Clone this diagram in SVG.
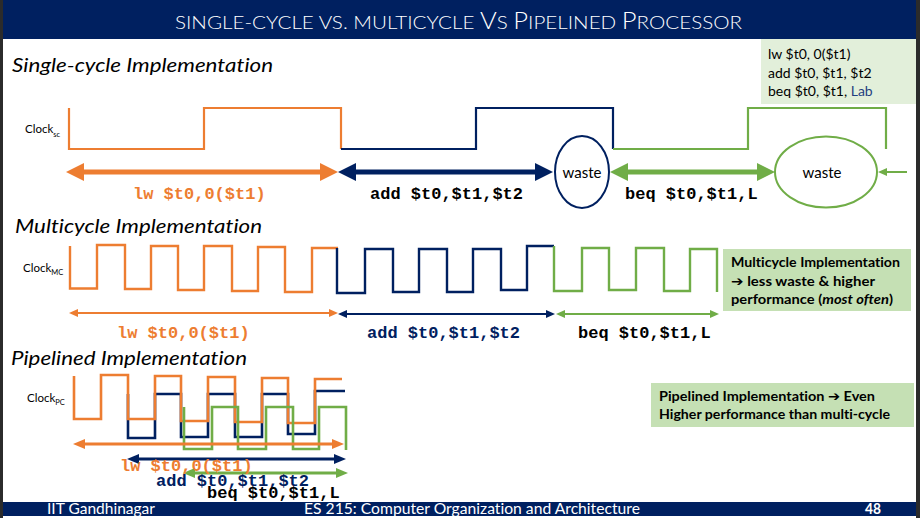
<svg xmlns="http://www.w3.org/2000/svg" width="920" height="518" viewBox="0 0 920 518">
<defs>
<style>
.sans{font-family:Lato,"Open Sans","Liberation Sans","DejaVu Sans",sans-serif;font-variant-ligatures:none}
.mono{font-family:"Liberation Mono","Courier New",monospace;font-weight:bold;font-size:17px}
.head{font-style:italic;font-size:20px;fill:#000}
.clk{font-size:11.5px;fill:#000}
.sub{font-size:7.5px}
.wave{fill:none;stroke-linejoin:miter;stroke-linecap:butt}
.o{stroke:#ED7D31}.n{stroke:#002060}.g{stroke:#70AD47}
.fo{fill:#ED7D31}.fn{fill:#002060}.fg{fill:#70AD47}.fk{fill:#000}
.note{font-weight:bold;font-size:13.5px;fill:#000}
.arr{font-family:"DejaVu Sans",sans-serif;font-weight:bold}
.foot{font-size:15px;fill:#fff}
</style>
<marker id="bO" markerUnits="userSpaceOnUse" markerWidth="18" markerHeight="18" refX="8" refY="9" orient="auto-start-reverse"><path d="M0,0 L18,9 L0,18 z" fill="#ED7D31"/></marker>
<marker id="bN" markerUnits="userSpaceOnUse" markerWidth="18" markerHeight="18" refX="8" refY="9" orient="auto-start-reverse"><path d="M0,0 L18,9 L0,18 z" fill="#002060"/></marker>
<marker id="bG" markerUnits="userSpaceOnUse" markerWidth="18" markerHeight="18" refX="8" refY="9" orient="auto-start-reverse"><path d="M0,0 L18,9 L0,18 z" fill="#70AD47"/></marker>
<marker id="mO" markerUnits="userSpaceOnUse" markerWidth="12" markerHeight="10" refX="5" refY="5" orient="auto-start-reverse"><path d="M0,0 L12,5 L0,10 z" fill="#ED7D31"/></marker>
<marker id="mN" markerUnits="userSpaceOnUse" markerWidth="12" markerHeight="10" refX="5" refY="5" orient="auto-start-reverse"><path d="M0,0 L12,5 L0,10 z" fill="#002060"/></marker>
<marker id="mG" markerUnits="userSpaceOnUse" markerWidth="12" markerHeight="10" refX="5" refY="5" orient="auto-start-reverse"><path d="M0,0 L12,5 L0,10 z" fill="#70AD47"/></marker>
<marker id="sO" markerUnits="userSpaceOnUse" markerWidth="9" markerHeight="8" refX="4" refY="4" orient="auto-start-reverse"><path d="M0,0 L9,4 L0,8 z" fill="#ED7D31"/></marker>
<marker id="sN" markerUnits="userSpaceOnUse" markerWidth="9" markerHeight="8" refX="4" refY="4" orient="auto-start-reverse"><path d="M0,0 L9,4 L0,8 z" fill="#002060"/></marker>
<marker id="sG" markerUnits="userSpaceOnUse" markerWidth="9" markerHeight="8" refX="4" refY="4" orient="auto-start-reverse"><path d="M0,0 L9,4 L0,8 z" fill="#70AD47"/></marker>
</defs>

<rect x="0" y="0" width="920" height="518" fill="#fff"/>

<!-- header -->
<g id="header">
<rect x="0" y="0" width="920" height="39" fill="#002060"/>
<text class="sans" x="175" y="28.5" fill="#fff" font-weight="300" textLength="567" lengthAdjust="spacingAndGlyphs"><tspan font-size="18.5">SINGLE-CYCLE VS. MULTICYCLE </tspan><tspan font-size="23">V</tspan><tspan font-size="18.5">S </tspan><tspan font-size="23">P</tspan><tspan font-size="18.5">IPELINED </tspan><tspan font-size="23">P</tspan><tspan font-size="18.5">ROCESSOR</tspan></text>
</g>

<!-- section headings -->
<g id="heading-single"><text class="sans head" x="12" y="72" textLength="261" lengthAdjust="spacingAndGlyphs">Single-cycle Implementation</text></g>
<g id="heading-multi"><text class="sans head" x="15" y="233" textLength="247" lengthAdjust="spacingAndGlyphs">Multicycle Implementation</text></g>
<g id="heading-pipe"><text class="sans head" x="11" y="365" textLength="236" lengthAdjust="spacingAndGlyphs">Pipelined Implementation</text></g>

<!-- code box -->
<g id="code-box">
<rect x="761" y="39" width="155" height="65" fill="#E2EFDA"/>
<text class="sans" x="768" y="59" font-size="14" fill="#000">lw $t0, 0($t1)</text>
<text class="sans" x="768" y="78" font-size="14" fill="#000">add $t0, $t1, $t2</text>
<text class="sans" x="768" y="96" font-size="14" fill="#000">beq $t0, $t1, <tspan fill="#1F3F7F">Lab</tspan></text>
</g>

<!-- clock labels -->
<g id="clock-sc-label"><text class="sans clk" x="25" y="133">Clock<tspan class="sub" dy="4">sc</tspan></text></g>
<g id="clock-mc-label"><text class="sans clk" x="23" y="272">Clock<tspan class="sub" dy="3">MC</tspan></text></g>
<g id="clock-pc-label"><text class="sans clk" x="27" y="402">Clock<tspan class="sub" dy="3">PC</tspan></text></g>

<!-- single-cycle clock -->
<g id="clock-sc" stroke-width="2.2">
<path class="wave o" d="M69,108 V149 H204 V108 H341 V149"/>
<path class="wave n" d="M341,149 H476 V108 H613 V149"/>
<path class="wave g" d="M613,149 H748 V108 H886 V149"/>
</g>

<!-- multicycle clock -->
<g id="clock-mc" stroke-width="2.4">
<path class="wave o" d="M70,246 V288.5 H97 V245 H125 V289 H151 V246 H178 V290 H204 V246 H232 V291 H258 V247 H285 V292 H312 V248 H338"/>
<path class="wave n" d="M337,248 V293 H365 V249 H393 V292 H419 V249 H447 V292 H473 V249 H501 V290 H527 V246 H554"/>
<path class="wave g" d="M554,246 V291 H582 V248 H609 V290 H636 V248 H664 V291 H690 V249 H717 V292"/>
</g>

<!-- pipelined clock -->
<g id="clock-pc" stroke-width="2.6">
<path class="wave n" d="M128,394 V438 H155 V394 H181 V437 H208 V394 H235 V437 H262 V394 H288 V434 H315 V391 H345"/>
<path class="wave o" d="M74,376 V419 H101 V375 H128 V419 H155 V376 H181 V421 H208 V377 H235 V422 H262 V378 H288 V423 H315 V379 H342"/>
<path class="wave g" d="M184,407 V449 H212 V407 H238 V449 H266 V407 H293 V449 H319 V407 H346 V450"/>
</g>

<!-- waste nodes -->
<g id="waste-1">
<ellipse cx="582" cy="172" rx="27" ry="36" fill="#fff" stroke="#002060" stroke-width="2"/>
<text class="sans" x="582" y="178" font-size="15" text-anchor="middle" fill="#000">waste</text>
</g>
<g id="waste-2">
<ellipse cx="826" cy="172" rx="51" ry="35.5" fill="#fff" stroke="#70AD47" stroke-width="2"/>
<text class="sans" x="822" y="178" font-size="15" text-anchor="middle" fill="#000">waste</text>
</g>

<!-- notes -->
<g id="multi-note">
<rect x="723" y="249" width="188" height="62" fill="#C5E0B4"/>
<text class="sans note" x="731" y="267" textLength="169" lengthAdjust="spacingAndGlyphs">Multicycle Implementation</text>
<text class="sans note" x="731" y="286" textLength="144" lengthAdjust="spacingAndGlyphs"><tspan class="arr">➔</tspan>  less waste &amp; higher</text>
<text class="sans note" x="731" y="304" textLength="162" lengthAdjust="spacingAndGlyphs">performance (<tspan font-style="italic">most often</tspan>)</text>
</g>
<g id="pipe-note">
<rect x="651" y="383" width="263" height="44" fill="#C5E0B4"/>
<text class="sans note" x="659" y="401" textLength="216" lengthAdjust="spacingAndGlyphs">Pipelined Implementation <tspan class="arr">➔</tspan> Even</text>
<text class="sans note" x="659" y="419" textLength="231" lengthAdjust="spacingAndGlyphs">Higher performance than multi-cycle</text>
</g>

<!-- connectors -->
<g id="connectors" fill="none">
<line x1="76" y1="172" x2="328" y2="172" stroke="#ED7D31" stroke-width="5" marker-start="url(#bO)" marker-end="url(#bO)"/>
<line x1="348" y1="172" x2="543" y2="172" stroke="#002060" stroke-width="5" marker-start="url(#bN)" marker-end="url(#bN)"/>
<line x1="620" y1="172" x2="765" y2="172" stroke="#70AD47" stroke-width="5" marker-start="url(#bG)" marker-end="url(#bG)"/>
<line x1="907" y1="172" x2="883" y2="172" stroke="#70AD47" stroke-width="2" marker-end="url(#sG)"/>

<line x1="74" y1="313" x2="333" y2="313" stroke="#ED7D31" stroke-width="2" marker-start="url(#sO)" marker-end="url(#sO)"/>
<line x1="343" y1="314" x2="550" y2="314" stroke="#002060" stroke-width="2" marker-start="url(#sN)" marker-end="url(#sN)"/>
<line x1="561" y1="314" x2="714" y2="314" stroke="#70AD47" stroke-width="2" marker-start="url(#sG)" marker-end="url(#sG)"/>

<line x1="80" y1="444" x2="337" y2="444" stroke="#ED7D31" stroke-width="3" marker-start="url(#mO)" marker-end="url(#mO)"/>
<line x1="134" y1="459" x2="339" y2="459" stroke="#002060" stroke-width="3" marker-start="url(#mN)" marker-end="url(#mN)"/>
<line x1="190" y1="473" x2="341" y2="473" stroke="#70AD47" stroke-width="3" marker-start="url(#mG)" marker-end="url(#mG)"/>
</g>

<!-- instruction labels -->
<g id="labels-single">
<text class="mono fo" x="133" y="199">lw $t0,0($t1)</text>
<text class="mono fk" x="370" y="199">add $t0,$t1,$t2</text>
<text class="mono fk" x="625" y="199">beq $t0,$t1,L</text>
</g>
<g id="labels-multi">
<text class="mono fo" x="117" y="338">lw $t0,0($t1)</text>
<text class="mono fn" x="367" y="338">add $t0,$t1,$t2</text>
<text class="mono fk" x="578" y="338">beq $t0,$t1,L</text>
</g>
<g id="labels-pipe">
<text class="mono fo" x="120" y="471" font-size="16.5">lw $t0,0($t1)</text>
<text class="mono fn" x="156" y="485.5" font-size="16.5">add $t0,$t1,$t2</text>
<text class="mono fk" x="207" y="498" font-size="16.5">beq $t0,$t1,L</text>
</g>

<!-- footer -->
<g id="footer">
<rect x="0" y="502" width="920" height="14" fill="#002060"/>
<text class="sans foot" x="47" y="514" textLength="108" lengthAdjust="spacingAndGlyphs">IIT Gandhinagar</text>
<text class="sans foot" x="304" y="514" textLength="336" lengthAdjust="spacingAndGlyphs">ES 215: Computer Organization and Architecture</text>
<text class="sans foot" x="865" y="514" font-weight="bold" textLength="16" lengthAdjust="spacingAndGlyphs">48</text>
</g>

<!-- frame edges -->
<rect x="0" y="0" width="3" height="518" fill="#2B2B2B"/>
<rect x="916" y="0" width="4" height="518" fill="#2B2B2B"/>
</svg>
